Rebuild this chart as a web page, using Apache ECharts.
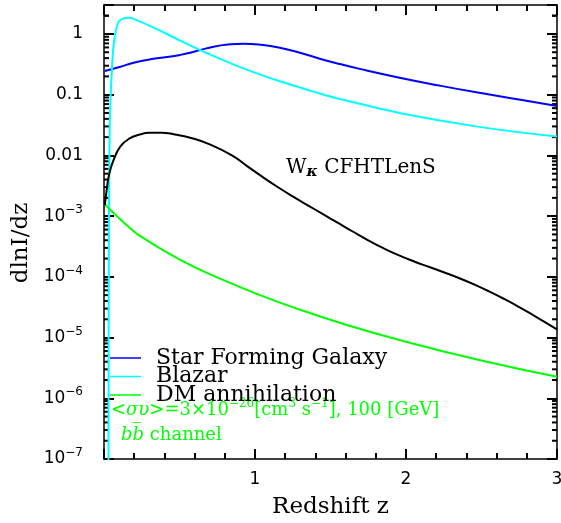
<!DOCTYPE html>
<html><head><meta charset="utf-8">
<script src="https://cdn.jsdelivr.net/npm/echarts@6/dist/echarts.min.js"></script>
<style>html,body{margin:0;padding:0;background:#fff}#c{width:561px;height:523px}</style>
</head><body><div id="c"></div>
<script>
// Star Forming Galaxy
const sfgZ = [0.005, 0.109, 0.197, 0.307, 0.417, 0.505, 0.571, 0.637, 0.725, 0.835, 0.923, 1.033, 1.165, 1.297, 1.429, 1.561, 1.693, 1.957, 2.221, 2.485, 2.749, 3.0];
const sfgV = [0.245, 0.289, 0.336, 0.382, 0.416, 0.452, 0.49, 0.543, 0.618, 0.675, 0.692, 0.667, 0.594, 0.492, 0.392, 0.32, 0.266, 0.1905, 0.1413, 0.1072, 0.0832, 0.0653];
// Blazar
const blzZ = [0.029, 0.033, 0.038, 0.043, 0.052, 0.061, 0.076, 0.1, 0.13, 0.164, 0.2, 0.307, 0.4, 0.505, 0.637, 0.77, 0.901, 1.165, 1.429, 1.561, 1.957, 2.485, 3.0];
const blzV = [1e-8, 1e-3, 0.03, 0.084, 0.25, 0.557, 1.06, 1.63, 1.81, 1.85, 1.758, 1.349, 1.047, 0.776, 0.543, 0.389, 0.285, 0.166, 0.1047, 0.0851, 0.0501, 0.0295, 0.0204];
// DM annihilation
const dmZ = [0.005, 0.05, 0.109, 0.17, 0.241, 0.505, 0.769, 1.033, 1.297, 1.561, 1.957, 2.485, 3.0];
const dmV = [1.56e-3, 1.216e-3, 8.79e-4, 6.46e-4, 4.68e-4, 1.905e-4, 9.33e-5, 5.01e-5, 2.88e-5, 1.758e-5, 9.12e-6, 4.27e-6, 2.26e-6];
// W_kappa CFHTLenS
const wkZ = [0.005, 0.021, 0.035, 0.065, 0.11, 0.17, 0.24, 0.3, 0.38, 0.47, 0.57, 0.70, 0.85, 0.95, 1.05, 1.15, 1.25, 1.35, 1.45, 1.55, 1.65, 1.75, 1.85, 1.95, 2.05, 2.15, 2.25, 2.35, 2.45, 2.55, 2.65, 2.75, 2.85, 2.95, 3.0];
const wkV = [1.5e-3, 3.1e-3, 5.0e-3, 8.59e-3, 0.01419, 0.01901, 0.02218, 0.02355, 0.02371, 0.02213, 0.01959, 0.01521, 9.89e-3, 6.61e-3, 4.42e-3, 3.02e-3, 2.11e-3, 1.505e-3, 1.078e-3, 7.72e-4, 5.53e-4, 4.0e-4, 2.97e-4, 2.28e-4, 1.81e-4, 1.464e-4, 1.19e-4, 9.56e-5, 7.51e-5, 5.76e-5, 4.32e-5, 3.17e-5, 2.28e-5, 1.62e-5, 1.36e-5];

const seriesNames = ['Star Forming Galaxy', 'Blazar', 'DM annihilation'];
const xRange = [0, 3];
const yRange = [1e-7, 3];
// log-spaced minor ticks of the y axis (2..9 in every decade)
const yMinorTicks = [];
for (let e = -7; e <= 0; e++) for (let m = 2; m <= 9; m++) yMinorTicks.push(m * Math.pow(10, e));
yMinorTicks.push(2);

const SERIF = '"DejaVu Serif", serif';
const SANS = '"DejaVu Sans", sans-serif';
const TICKW = 2;
const TICKC = '#000';
const pair = (z, v) => z.map((x, i) => [x, v[i]]);

const yLabel = function (v) {
  const e = Math.round(Math.log10(v));
  if (Math.abs(v - Math.pow(10, e)) / v > 1e-6) return '';
  if (e >= -2) return '{n|' + (e === 0 ? '1' : e === -1 ? '0.1' : '0.01') + '}';
  return '{n|10}{sup|\u2212' + (-e) + '}';
};

function xAxisOpt(pos, withLabel) {
  const o = {
    type: 'value', min: xRange[0], max: xRange[1], interval: 1, position: pos,
    axisLine: { onZero: false, lineStyle: { color: '#000', width: 1.5 } },
    axisTick: { show: true, inside: true, length: 10, lineStyle: { color: TICKC, width: TICKW } },
    minorTick: { show: true, splitNumber: 5, length: 6, lineStyle: { color: TICKC, width: TICKW } },
    splitLine: { show: false },
    axisLabel: { show: false }
  };
  if (withLabel) {
    o.axisLabel = { show: true, margin: 12, color: '#000', fontFamily: SANS, fontSize: 17,
      formatter: v => (v === 0 ? '' : String(v)) };
    o.name = 'Redshift z'; o.nameLocation = 'middle'; o.nameGap = 37;
    o.nameTextStyle = { color: '#000', fontFamily: SERIF, fontSize: 23 };
  }
  return o;
}
function yAxisOpt(pos, withLabel) {
  const o = {
    type: 'log', logBase: 10, min: yRange[0], max: yRange[1], position: pos,
    axisLine: { show: true, onZero: false, lineStyle: { color: '#000', width: 1.5 } },
    axisTick: { show: true, inside: true, length: 10, lineStyle: { color: TICKC, width: TICKW } },
    splitLine: { show: false },
    axisLabel: { show: false }
  };
  if (withLabel) {
    o.axisLabel = { show: true, margin: 21, color: '#000', formatter: yLabel,
      rich: {
        n: { fontFamily: SANS, fontSize: 17, lineHeight: 24, color: '#000' },
        sup: { fontFamily: SANS, fontSize: 12, lineHeight: 12, verticalAlign: 'top', color: '#000' }
      } };
    o.name = 'dlnI/dz'; o.nameLocation = 'middle'; o.nameGap = 70; o.nameRotate = 90;
    o.nameTextStyle = { color: '#000', fontFamily: SERIF, fontSize: 23, padding: [0, 22, 0, 0] };
  }
  return o;
}

const chart = echarts.init(document.getElementById('c'), null, { renderer: 'canvas' });
chart.setOption({
  animation: false,
  backgroundColor: '#fff',
  grid: { left: 104, right: 4, top: 5, bottom: 64, outerBoundsMode: 'none' },
  xAxis: [xAxisOpt('bottom', true), xAxisOpt('top', false)],
  yAxis: [yAxisOpt('left', true), yAxisOpt('right', false)],
  legend: {
    data: seriesNames, orient: 'vertical', left: 110, top: 347, padding: 0,
    icon: 'rect', itemWidth: 31, itemHeight: 1.5, itemGap: -3.5,
    textStyle: { color: '#000', fontFamily: SERIF, fontSize: 22, padding: [0, 0, 0, 10] }
  },
  series: [
    { name: 'Star Forming Galaxy', type: 'line', data: pair(sfgZ, sfgV), symbol: 'none', smooth: 0.5,
      lineStyle: { color: '#0000ff', width: 2 }, itemStyle: { color: '#0000ff' } },
    { name: 'Blazar', type: 'line', data: pair(blzZ, blzV), symbol: 'none', smooth: 0.3,
      lineStyle: { color: '#00ffff', width: 2 }, itemStyle: { color: '#00ffff' } },
    { name: 'DM annihilation', type: 'line', data: pair(dmZ, dmV), symbol: 'none', smooth: 0.5,
      lineStyle: { color: '#00ff00', width: 2 }, itemStyle: { color: '#00ff00' } },
    { name: 'W_kappa CFHTLenS', type: 'line', data: pair(wkZ, wkV), symbol: 'none', smooth: 0.5,
      lineStyle: { color: '#000', width: 2 }, itemStyle: { color: '#000' } },
    { name: 'yMinorL', type: 'custom', data: yMinorTicks.map(v => [xRange[0], v]),
      renderItem: function (params, api) {
        const p = api.coord([xRange[0], api.value(1)]);
        return { type: 'line', shape: { x1: p[0], y1: p[1], x2: p[0] + 5, y2: p[1] }, style: { stroke: TICKC, lineWidth: TICKW } };
      } },
    { name: 'yMinorR', type: 'custom', data: yMinorTicks.map(v => [xRange[1], v]),
      renderItem: function (params, api) {
        const p = api.coord([xRange[1], api.value(1)]);
        return { type: 'line', shape: { x1: p[0] - 5, y1: p[1], x2: p[0], y2: p[1] }, style: { stroke: TICKC, lineWidth: TICKW } };
      } }
  ],
  graphic: [
    { type: 'text', left: 286, top: 158, silent: true,
      style: { text: '{a|W}{k|\u03ba}{a| CFHTLenS}', fill: '#000',
        rich: { a: { fontFamily: SERIF, fontSize: 20, lineHeight: 22, verticalAlign: 'top', fill: '#000' },
                k: { fontFamily: SERIF, fontSize: 15, fontStyle: 'italic', fontWeight: 'bold', lineHeight: 15, verticalAlign: 'bottom', fill: '#000' } } } },
    { type: 'text', left: 111, top: 398, silent: true,
      style: { text: '{a|<}{i|\u03c3\u03c5}{a|>=3\u00d710}{s|\u221226}{a|[cm}{s|3}{a| s}{s|\u22121}{a|], 100 [GeV]}',
        rich: { a: { fontFamily: SERIF, fontSize: 18, lineHeight: 24, fill: '#00ff00' },
                i: { fontFamily: SERIF, fontSize: 18, fontStyle: 'italic', lineHeight: 24, fill: '#00ff00' },
                s: { fontFamily: SERIF, fontSize: 12, lineHeight: 12, verticalAlign: 'top', fill: '#00ff00' } } } },
    { type: 'text', left: 121, top: 426, silent: true,
      style: { text: '{i|bb\u0305}{a| channel}',
        rich: { a: { fontFamily: SERIF, fontSize: 18, lineHeight: 20, fill: '#00ff00' },
                i: { fontFamily: SERIF, fontSize: 18, fontStyle: 'italic', lineHeight: 20, fill: '#00ff00' } } } }
  ]
});
</script></body></html>
